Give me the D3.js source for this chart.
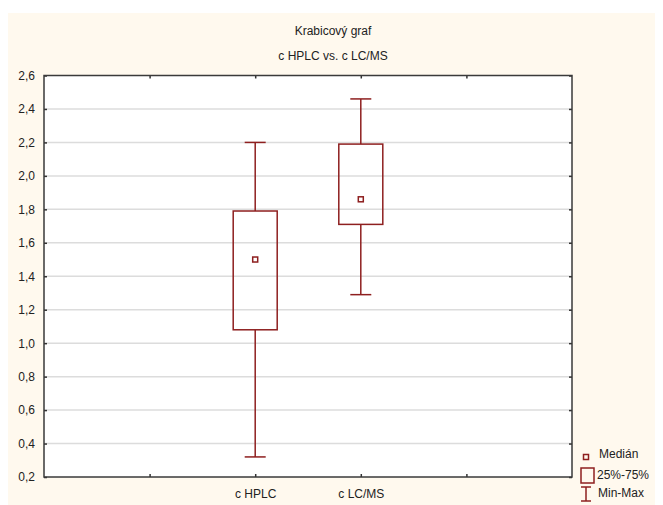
<!DOCTYPE html>
<html>
<head>
<meta charset="utf-8">
<script src="https://cdn.jsdelivr.net/npm/d3@7"></script>
<style>
  body { margin: 0; background: #fff; }
  text { font-family: "Liberation Sans", Arial, sans-serif; font-size: 12px; fill: #222; }
</style>
</head>
<body>
<svg width="663" height="505"></svg>
<script>
var categories = ["c HPLC", "c LC/MS"];
var catPos = [2, 3];
var minVals = [0.32, 1.29];
var q1Vals = [1.08, 1.71];
var medVals = [1.50, 1.86];
var q3Vals = [1.79, 2.19];
var maxVals = [2.20, 2.46];
var yTicks = [0.2, 0.4, 0.6, 0.8, 1.0, 1.2, 1.4, 1.6, 1.8, 2.0, 2.2, 2.4, 2.6];
var xTicks = [1, 2, 3, 4];

var svg = d3.select("svg"),
    boxColor = "#8e1f1f",
    plotL = 44, plotR = 572, plotT = 75.5, plotB = 477;

svg.append("rect")
    .attr("x", 8).attr("y", 13)
    .attr("width", 647).attr("height", 500)
    .attr("fill", "#fff9ee");

var x = d3.scaleLinear().domain([0, 5]).range([plotL, plotR]);
var y = d3.scaleLinear().domain([0.2, 2.6]).range([plotB, plotT]);
var fmt = function(d) { return d3.format(".1f")(d).replace(".", ","); };

// plot background
svg.append("rect")
    .attr("x", plotL).attr("y", plotT)
    .attr("width", plotR - plotL).attr("height", plotB - plotT)
    .attr("fill", "#fff");

// gridlines
svg.append("g")
    .selectAll("line")
    .data(yTicks.slice(1, -1))
    .enter().append("line")
    .attr("x1", plotL).attr("x2", plotR)
    .attr("y1", d => y(d)).attr("y2", d => y(d))
    .attr("stroke", "#dcdcdc")
    .attr("stroke-width", 1.5);

// axes, ticks point inward like the original
var gy = svg.append("g").attr("transform", `translate(${plotL},0)`)
    .call(d3.axisLeft(y).tickValues(yTicks).tickFormat(fmt).tickSizeInner(-3).tickPadding(9));
var gyr = svg.append("g").attr("transform", `translate(${plotR},0)`)
    .call(d3.axisRight(y).tickValues(yTicks).tickFormat("").tickSizeInner(-3));

var gx = svg.append("g").attr("transform", `translate(0,${plotB})`)
    .call(d3.axisBottom(x).tickValues(xTicks)
        .tickFormat(d => { let i = catPos.indexOf(d); return i >= 0 ? categories[i] : ""; })
        .tickSizeInner(-3).tickPadding(12));
var gxt = svg.append("g").attr("transform", `translate(0,${plotT})`)
    .call(d3.axisTop(x).tickValues(xTicks).tickFormat("").tickSizeInner(-3));

[gy, gyr, gx, gxt].forEach(g => {
    g.select(".domain").remove();
    g.selectAll(".tick line").attr("stroke", "#333").attr("stroke-width", 1.5);
    g.selectAll("text").attr("font-size", null).attr("font-family", null).attr("fill", "#222");
});

// frame
svg.append("rect")
    .attr("x", plotL).attr("y", plotT)
    .attr("width", plotR - plotL).attr("height", plotB - plotT)
    .attr("fill", "none")
    .attr("stroke", "#3a3a3a")
    .attr("stroke-width", 1.5);

// boxes
var boxW = 44, capW = 21, medS = 5;
var boxes = categories.map((c, i) => ({
    pos: catPos[i], min: minVals[i], q1: q1Vals[i], med: medVals[i], q3: q3Vals[i], max: maxVals[i]
}));

var b = svg.selectAll(".box")
    .data(boxes)
    .enter().append("g")
    .attr("class", "box")
    .attr("stroke", boxColor)
    .attr("stroke-width", 1.5)
    .attr("fill", "none");

b.append("line")
    .attr("x1", d => x(d.pos)).attr("x2", d => x(d.pos))
    .attr("y1", d => y(d.max)).attr("y2", d => y(d.q3));
b.append("line")
    .attr("x1", d => x(d.pos)).attr("x2", d => x(d.pos))
    .attr("y1", d => y(d.q1)).attr("y2", d => y(d.min));
b.append("line")
    .attr("x1", d => x(d.pos) - capW / 2).attr("x2", d => x(d.pos) + capW / 2)
    .attr("y1", d => y(d.max)).attr("y2", d => y(d.max));
b.append("line")
    .attr("x1", d => x(d.pos) - capW / 2).attr("x2", d => x(d.pos) + capW / 2)
    .attr("y1", d => y(d.min)).attr("y2", d => y(d.min));
b.append("rect")
    .attr("x", d => x(d.pos) - boxW / 2)
    .attr("y", d => y(d.q3))
    .attr("width", boxW)
    .attr("height", d => y(d.q1) - y(d.q3));
b.append("rect")
    .attr("x", d => x(d.pos) - medS / 2)
    .attr("y", d => y(d.med) - medS / 2)
    .attr("width", medS).attr("height", medS);

// title
svg.append("text").attr("x", 333).attr("y", 35).attr("text-anchor", "middle").text("Krabicový graf");
svg.append("text").attr("x", 333).attr("y", 60).attr("text-anchor", "middle").text("c HPLC vs. c LC/MS");

// legend
var lg = svg.append("g");
lg.append("rect").attr("x", 583.5).attr("y", 454.5).attr("width", 5).attr("height", 5)
    .attr("fill", "none").attr("stroke", boxColor).attr("stroke-width", 1.5);
lg.append("rect").attr("x", 581).attr("y", 468).attr("width", 13).attr("height", 15)
    .attr("fill", "none").attr("stroke", boxColor).attr("stroke-width", 1.5);
lg.append("line").attr("x1", 586).attr("x2", 586).attr("y1", 487).attr("y2", 501)
    .attr("stroke", boxColor).attr("stroke-width", 1.5);
lg.append("line").attr("x1", 581).attr("x2", 591).attr("y1", 487).attr("y2", 487)
    .attr("stroke", boxColor).attr("stroke-width", 1.5);
lg.append("line").attr("x1", 581).attr("x2", 591).attr("y1", 501).attr("y2", 501)
    .attr("stroke", boxColor).attr("stroke-width", 1.5);
lg.append("text").attr("x", 599).attr("y", 458).text("Medián");
lg.append("text").attr("x", 597).attr("y", 479).text("25%-75%");
lg.append("text").attr("x", 598).attr("y", 497).text("Min-Max");
</script>
</body>
</html>
